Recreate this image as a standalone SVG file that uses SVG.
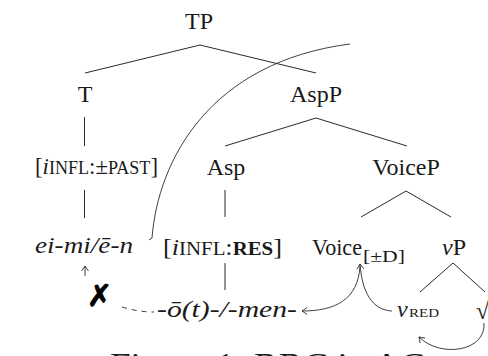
<svg xmlns="http://www.w3.org/2000/svg" width="488" height="356" viewBox="0 0 488 356">
<defs>
<style>
text{font-family:"Liberation Serif","DejaVu Serif",serif;fill:#1a1a1a;}
.n{font-size:24px;}
.it{font-style:italic;}
.sc{font-size:19px;}
.sub{font-size:16px;}
.edge{stroke:#2a2a2a;stroke-width:1;fill:none;}
.arr{stroke:#2a2a2a;stroke-width:0.9;fill:none;}
</style>
<marker id="ah" viewBox="-7 -5 9 10" markerWidth="9" markerHeight="10" refX="0" refY="0" orient="auto" markerUnits="userSpaceOnUse">
<path d="M-5,-3.5 Q-1.5,-0.8 0,0 Q-1.5,0.8 -5,3.5" fill="none" stroke="#2a2a2a" stroke-width="0.9"/>
</marker>
</defs>
<rect width="488" height="356" fill="#ffffff"/>

<g id="connectors">
<line class="edge" x1="200" y1="45" x2="85" y2="73"/>
<line class="edge" x1="200" y1="45" x2="316" y2="73"/>
<line class="edge" x1="84.5" y1="117" x2="84.5" y2="146"/>
<line class="edge" x1="84.5" y1="190" x2="84.5" y2="218"/>
<line class="edge" x1="316" y1="118" x2="225" y2="146"/>
<line class="edge" x1="316" y1="118" x2="407" y2="146"/>
<line class="edge" x1="225" y1="190" x2="225" y2="217"/>
<line class="edge" x1="225" y1="263" x2="225" y2="290"/>
<line class="edge" x1="406" y1="191" x2="361" y2="217"/>
<line class="edge" x1="406" y1="191" x2="451" y2="217"/>
<line class="edge" x1="453" y1="263" x2="420" y2="292"/>
<line class="edge" x1="453" y1="263" x2="485" y2="292"/>
<path class="arr" d="M149,240 L152,238 C158,160 210,62 350,44"/>
<path class="arr" d="M85,276 L85,266" stroke="#777" marker-end="url(#ah)"/>
<path class="arr" d="M122,307 Q138,312 154,312" stroke-dasharray="5,5"/>
<path class="arr" d="M392,311 C372,310 362,292 360,264" marker-end="url(#ah)"/>
<path class="arr" d="M360,266 C358,300 335,311 302,311" marker-end="url(#ah)"/>
<path class="arr" d="M484,323 C486,352 440,358 419,337" marker-end="url(#ah)"/>
</g>

<g id="TP"><text class="n" x="199" y="29" text-anchor="middle">TP</text></g>
<g id="T"><text class="n" x="85" y="102" text-anchor="middle">T</text></g>
<g id="AspP"><text class="n" x="316" y="102" text-anchor="middle">AspP</text></g>
<g id="T-feature"><text class="n" x="35" y="174" textLength="123" lengthAdjust="spacingAndGlyphs">[<tspan class="it">i</tspan><tspan class="sc">INFL</tspan>:±<tspan class="sc">PAST</tspan>]</text></g>
<g id="Asp"><text class="n" x="226" y="175" text-anchor="middle">Asp</text></g>
<g id="VoiceP"><text class="n" x="406" y="175" text-anchor="middle">VoiceP</text></g>
<g id="eimi"><text class="n it" x="35" y="253" textLength="98" lengthAdjust="spacingAndGlyphs">ei-mi/ē-n</text></g>
<g id="Asp-feature"><text class="n" x="163" y="255" textLength="119" lengthAdjust="spacingAndGlyphs">[<tspan class="it">i</tspan><tspan class="sc">INFL</tspan>:<tspan class="sc" font-weight="bold">RES</tspan>]</text></g>
<g id="Voice"><text class="n" x="312" y="255" textLength="50" lengthAdjust="spacingAndGlyphs">Voice</text><text class="sub" x="363" y="262" textLength="42" lengthAdjust="spacingAndGlyphs">[±D]</text></g>
<g id="vP"><text class="n" x="454" y="255" text-anchor="middle"><tspan class="it">v</tspan>P</text></g>
<g id="vRED"><text class="n it" x="397" y="317">v</text><text x="409" y="317" font-size="13" textLength="30" lengthAdjust="spacingAndGlyphs">RED</text></g>
<g id="root"><text class="n" x="476" y="319">√</text></g>
<g id="morph"><text class="n it" x="157" y="317" textLength="140" lengthAdjust="spacingAndGlyphs">-ō(t)-/-men-</text></g>
<g id="blocked"><text x="87" y="306" style="font-family:'DejaVu Sans',sans-serif;font-size:30px;font-weight:bold;fill:#000;stroke:#000;stroke-width:1">✗</text></g>
<g id="caption"><text x="110" y="375" font-size="31" textLength="315" lengthAdjust="spacingAndGlyphs">Figure 1: RRC in AC</text></g>
</svg>
